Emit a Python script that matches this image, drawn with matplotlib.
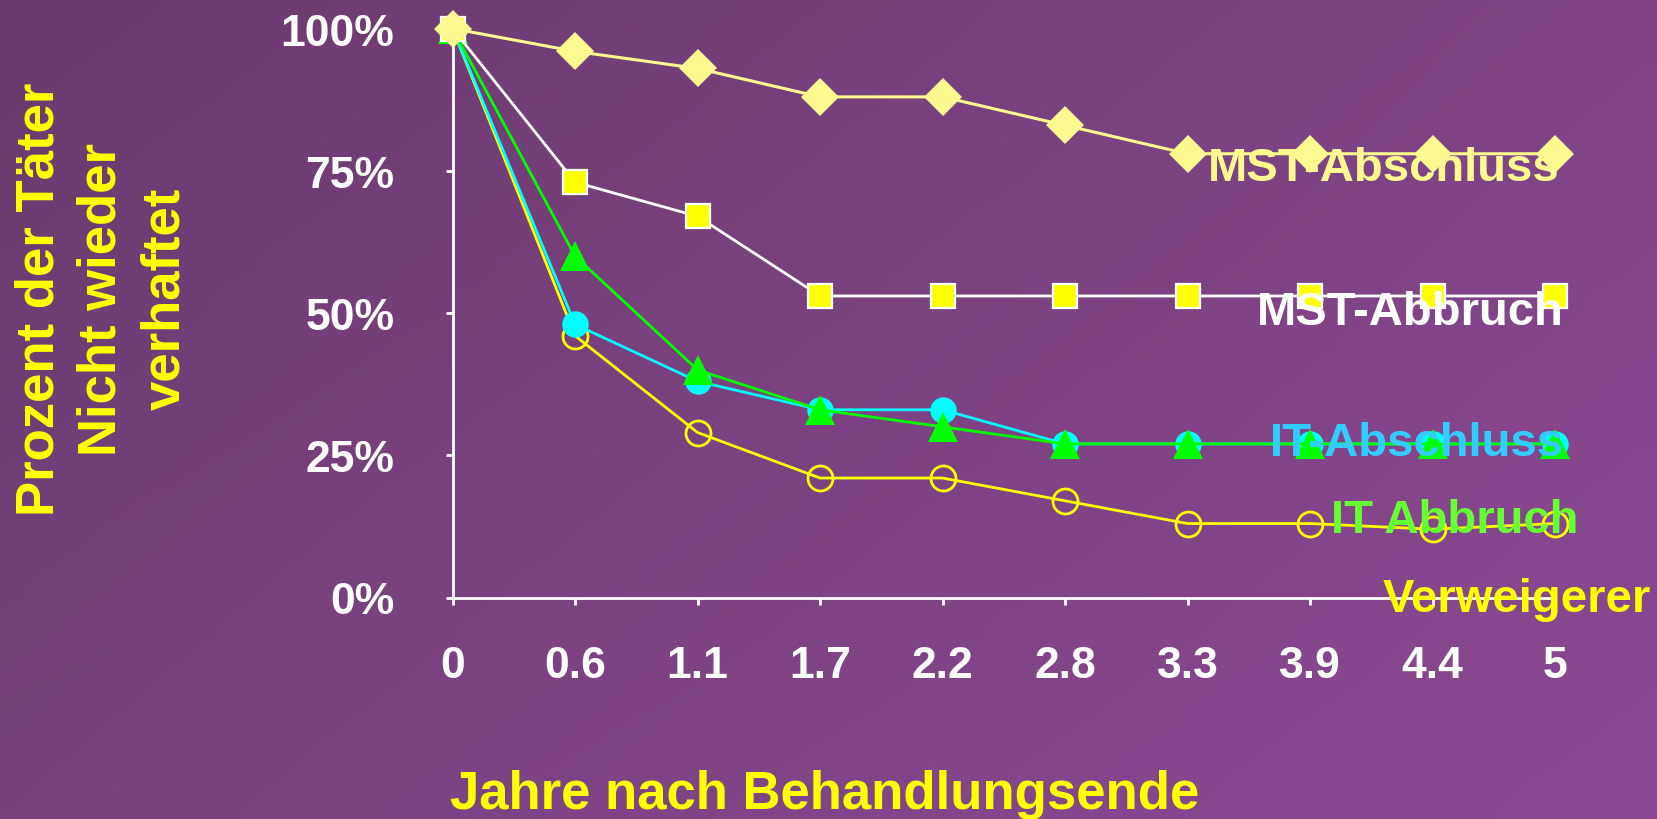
import numpy as np
import matplotlib
matplotlib.use("Agg")
import matplotlib.pyplot as plt
from matplotlib import font_manager

# ---------------- data ----------------
years = ["0", "0.6", "1.1", "1.7", "2.2", "2.8", "3.3", "3.9", "4.4", "5"]
yticks = [0, 0.25, 0.5, 0.75, 1.0]
ytick_labels = ["0%", "25%", "50%", "75%", "100%"]

mst_abschluss = [100, 96, 93, 88, 88, 83, 78, 78, 78, 78]
mst_abbruch = [100, 73, 67, 53, 53, 53, 53, 53, 53, 53]
it_abschluss = [100, 48, 38, 33, 33, 27, 27, 27, 27, 27]
it_abbruch = [100, 60, 40, 33, 30, 27, 27, 27, 27, 27]
verweigerer = [100, 46, 29, 21, 21, 17, 13, 13, 12, 13]

series_names = ["MST-Abschluss", "MST-Abbruch", "IT-Abschluss", "IT Abbruch", "Verweigerer"]

# ---------------- fonts ----------------
avail = {f.name for f in font_manager.fontManager.ttflist}
FONT = "Liberation Sans" if "Liberation Sans" in avail else "DejaVu Sans"
plt.rcParams["font.family"] = [FONT, "DejaVu Sans"]
plt.rcParams["font.weight"] = "bold"

W, H = 1658, 820
fig = plt.figure(figsize=(W / 100, H / 100), dpi=100)

# background gradient
bg = fig.add_axes([0, 0, 1, 1], zorder=-10)
tl = np.array([108, 58, 110]) / 255
tr = np.array([128, 68, 134]) / 255
bl = np.array([120, 65, 126]) / 255
br = np.array([141, 72, 148]) / 255
gx = np.linspace(0, 1, 200)[None, :, None]
gy = np.linspace(0, 1, 100)[:, None, None]
img = (tl * (1 - gx) * (1 - gy) + tr * gx * (1 - gy) + bl * (1 - gx) * gy + br * gx * gy)
bg.imshow(img, aspect="auto", extent=[0, 1, 0, 1], origin="upper")
bg.set_axis_off()

# main axes
left = 452.6 / W
right = 1555 / W
bottom = (H - 598.5) / H
top = (H - 29.6) / H
ax = fig.add_axes([left, bottom, right - left, top - bottom])
ax.patch.set_alpha(0)
x = np.arange(len(years))
ax.set_xlim(0, len(years) - 1)
ax.set_ylim(0, 1)

def frac(v):
    return np.array(v) / 100.0

ax.plot(x, frac(verweigerer), color="#FFFF00", lw=2.0, marker="o", ms=18,
        mfc="none", mec="#FFFF00", mew=2.0, clip_on=False, zorder=3)
ax.plot(x, frac(it_abschluss), color="#00FFFF", lw=2.0, marker="o", ms=19,
        mfc="#00FFFF", mec="#00FFFF", mew=0, clip_on=False, zorder=4)
ax.plot(x, frac(it_abbruch), color="#00FF00", lw=2.0, marker="^", ms=22,
        mfc="#00FF00", mec="#00FF00", mew=0, clip_on=False, zorder=5)
ax.plot(x, frac(mst_abbruch), color="#FFFFFF", lw=2.0, marker="s", ms=17,
        mfc="#FFFF00", mec="#FFFFFF", mew=1.6, clip_on=False, zorder=6)
ax.plot(x, frac(mst_abschluss), color="#FFF98F", lw=2.2, marker="D", ms=19.5,
        mfc="#FFF98F", mec="#FFF98F", mew=0, clip_on=False, zorder=7)

for s in ["top", "right"]:
    ax.spines[s].set_visible(False)
for s in ["left", "bottom"]:
    ax.spines[s].set_color("white")
    ax.spines[s].set_linewidth(2)
    ax.spines[s].set_zorder(2)

ax.set_xticks(x)
ax.set_xticklabels(years)
ax.set_yticks(yticks)
ax.set_yticklabels(ytick_labels)
ax.tick_params(axis="both", colors="white", direction="out", length=5, width=2)
ax.tick_params(axis="x", pad=29, labelsize=32, labelcolor="white")
ax.tick_params(axis="y", pad=37, labelsize=32, labelcolor="white")
for lab in ax.get_xticklabels() + ax.get_yticklabels():
    lab.set_fontweight("bold")

fig.text(825 / W, (H - 795) / H, "Jahre nach Behandlungsende", color="#FFFF00",
         fontsize=38, fontweight="bold", ha="center", va="center")
fig.text(102 / W, (H - 299) / H, "Prozent der Täter\nNicht wieder\nverhaftet",
         color="#FFFF00", fontsize=38, fontweight="bold", rotation=90,
         ha="center", va="center", multialignment="center", linespacing=1.33)

label_specs = [
    (series_names[0], 7.60, 0.734, "#FFF98F"),
    (series_names[1], 7.82, 0.481, "#FFFFFF"),
    (series_names[2], 7.87, 0.2505, "#33CCFF"),
    (series_names[3], 8.18, 0.115, "#66FF33"),
    (series_names[4], 8.69, -0.023, "#FFFF00"),
]
for name, lx, ly, c in label_specs:
    ax.text(lx, ly, name, color=c, fontsize=34, fontweight="bold",
            ha="center", va="baseline", zorder=10, clip_on=False)

fig.savefig("out.png", dpi=100)
